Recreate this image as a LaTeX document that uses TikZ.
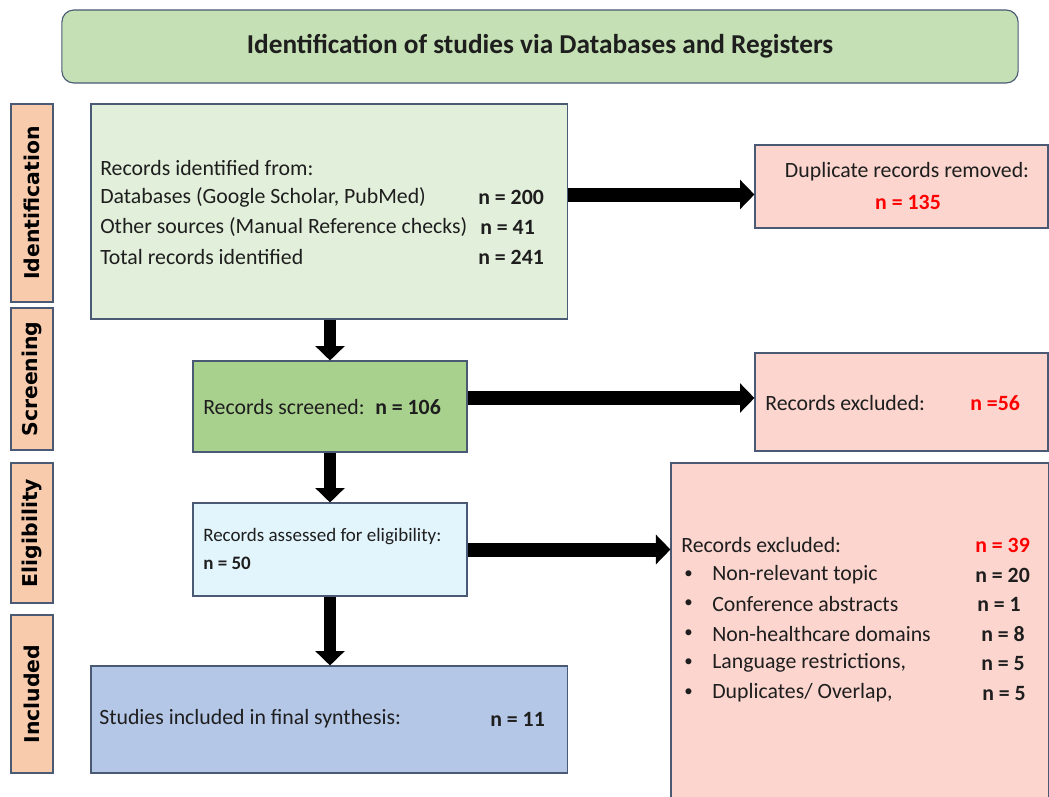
\documentclass[tikz,border=0pt]{standalone}
\usepackage{fontspec}
\setmainfont{Carlito}
\newfontfamily\sidefont{DejaVu Sans}
\usetikzlibrary{arrows.meta}
\definecolor{prsEdge}{HTML}{4A5A75}
\definecolor{prsTitle}{HTML}{C5E0B4}
\definecolor{prsSide}{HTML}{F8CBAD}
\definecolor{prsIdent}{HTML}{E2EFDA}
\definecolor{prsScreen}{HTML}{A9D18E}
\definecolor{prsElig}{HTML}{E2F4FC}
\definecolor{prsIncl}{HTML}{B4C7E7}
\definecolor{prsPink}{HTML}{FBD5CE}
\definecolor{prsRed}{HTML}{FF0000}
\definecolor{prsText}{HTML}{1E1E1E}
\tikzset{
  prs box/.style={draw=prsEdge, line width=0.8pt, inner sep=0pt},
  prs side/.style={prs box, fill=prsSide, rotate=90, minimum height=1.05cm, font=\sidefont\bfseries\fontsize{14.5}{17}\selectfont},
  prs text/.style={anchor=west, inner sep=0pt, text=prsText, font=\fontsize{15.5}{18}\selectfont},
  prs small/.style={prs text, font=\fontsize{13.5}{16}\selectfont},
  prs count/.style={prs text, font=\bfseries\fontsize{15.5}{18}\selectfont},
  prs red/.style={prs count, text=prsRed},
  prs arrow/.style={draw=black, line width=0.3cm, -{Triangle[length=0.36cm, width=0.74cm, line width=0pt]}},
  prs wide arrow/.style={prs arrow, line width=0.35cm},
}

\begin{document}
\begin{tikzpicture}[x=0.025cm, y=-0.025cm]
  \useasboundingbox (0,0) rectangle (1049,796);
  \clip (0,0) rectangle (1049,796);
  % Title banner
  \node[prs box, fill=prsTitle, rounded corners=0.3cm, minimum width=23.9cm, minimum height=1.825cm] (title) at (540,46.5) {};
  \node[inner sep=0pt, text=prsText, font=\bfseries\fontsize{19.4}{23}\selectfont] (titleText) at (title) {Identification of studies via Databases and Registers};
  % Phase labels on the left
  \node[prs side, minimum width=4.95cm] (sideId) at (32,203) {Identification};
  \node[prs side, minimum width=3.55cm] (sideScr) at (32,379) {Screening};
  \node[prs side, minimum width=3.5cm] (sideElig) at (32,533) {Eligibility};
  \node[prs side, minimum width=3.95cm] (sideIncl) at (32,694) {Included};
  % Main column
  \node[prs box, fill=prsIdent, minimum width=11.9cm, minimum height=5.375cm] (ident) at (329,211.5) {};
  \node[prs box, fill=prsScreen, minimum width=6.85cm, minimum height=2.275cm] (screen) at (330,406.5) {};
  \node[prs box, fill=prsElig, minimum width=6.85cm, minimum height=2.325cm] (elig) at (330,549.5) {};
  \node[prs box, fill=prsIncl, minimum width=11.9cm, minimum height=2.675cm] (incl) at (329,719.5) {};
  % Right column
  \node[prs box, fill=prsPink, minimum width=7.325cm, minimum height=2.075cm] (dup) at (901.5,186.5) {};
  \node[prs box, fill=prsPink, minimum width=7.325cm, minimum height=2.45cm] (exclA) at (901.5,402) {};
  \node[prs box, fill=prsPink, minimum width=9.425cm, minimum height=8.55cm] (exclB) at (859.5,634) {};
  % Identification text
  \node[prs text] (idHead) at (100,168) {Records identified from:};
  \node[prs text] (idDb) at (100,197) {Databases (Google Scholar, PubMed)};
  \node[prs text] (idOther) at (100,227) {Other sources (Manual Reference checks)};
  \node[prs text] (idTotal) at (100,257) {Total records identified};
  \node[prs count] (idDbN) at (478,197) {n = 200};
  \node[prs count] (idOtherN) at (480,227) {n = 41};
  \node[prs count] (idTotalN) at (478,257) {n = 241};
  % Other box texts
  \node[prs text, anchor=center] (dupText) at (907,172) {Duplicate records removed:};
  \node[prs red, anchor=center] (dupN) at (908,202) {n = 135};
  \node[prs text] (scrText) at (203,407) {Records screened:};
  \node[prs count] (scrN) at (375,407) {n = 106};
  \node[prs text] (exclAText) at (765,403) {Records excluded:};
  \node[prs red] (exclAN) at (970,403) {n =56};
  \node[prs small] (eligText) at (203,537) {Records assessed for eligibility:};
  \node[prs count, font=\bfseries\fontsize{13.5}{16}\selectfont] (eligN) at (203,563) {n = 50};
  \node[prs text] (inclText) at (99,719) {Studies included in final synthesis:};
  \node[prs count] (inclN) at (490,719) {n = 11};
  % Exclusion reasons
  \node[prs text] (exclBText) at (681,545) {Records excluded:};
  \node[prs red] (exclBN) at (975,545) {n = 39};
  \foreach \y/\why/\nx/\num [count=\i] in {575/Non-relevant topic/975/20, 604/Conference abstracts/977/1, 634/Non-healthcare domains/981/8, 663/{Language restrictions,}/981/5, 693/{Duplicates/ Overlap,}/982/5}{
    \node[prs text, font=\fontsize{12}{14}\selectfont] (bullet\i) at (684,\y) {\textbullet};
    \node[prs text] (reason\i) at (712,\y) {\why};
    \node[prs count] (reasonN\i) at (\nx,\y) {n = \num};
  }
  % Flow arrows
  \draw[prs arrow] (screen.north |- ident.south) -- (screen.north);
  \draw[prs arrow] (screen.south) -- (elig.north);
  \draw[prs arrow] (elig.south) -- (elig.south |- incl.north);
  \draw[prs wide arrow] ([yshift=-0.2cm]ident.east |- dup.west) -- ([yshift=-0.2cm]dup.west);
  \draw[prs wide arrow] ([yshift=0.1cm]screen.east |- exclA.west) -- ([yshift=0.1cm]exclA.west);
  \draw[prs wide arrow] (elig.east) -- (elig.east -| exclB.west);
\end{tikzpicture}
\end{document}
